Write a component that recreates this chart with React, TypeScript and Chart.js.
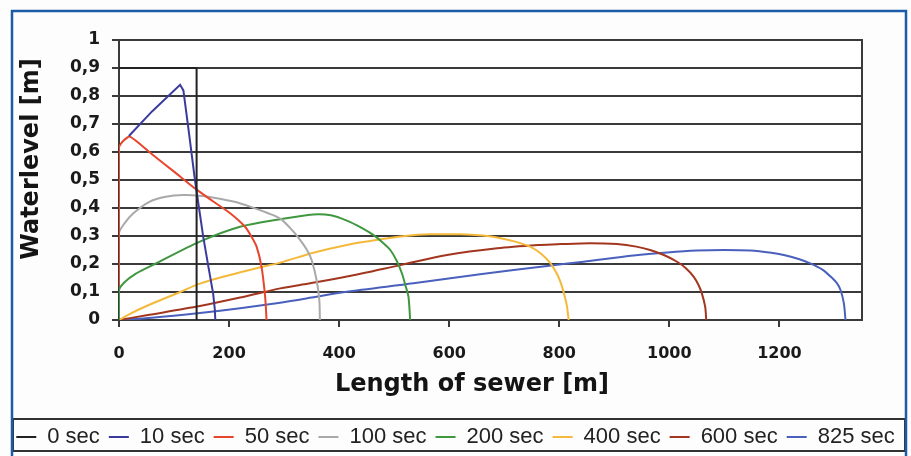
import React, { useEffect, useRef } from "react";
import { Chart, registerables } from "chart.js";

Chart.register(...registerables);

// ---- data ----
const seriesNames = ["0 sec", "10 sec", "50 sec", "100 sec", "200 sec", "400 sec", "600 sec", "825 sec"];
const seriesColors = ["#222222", "#3b3b9e", "#e8462c", "#a9a9a9", "#3f983f", "#f4b93a", "#a2361e", "#4a60bd"];
const seriesTension = [0, 0, 0.2, 0.3, 0.3, 0.3, 0.3, 0.3];

const sec0: [number, number][] = [[0, 0.9], [141, 0.9], [141, 0]];
const sec10: [number, number][] = [
  [18, 0.657], [60, 0.745], [111, 0.84], [117, 0.82], [127, 0.67], [138, 0.5],
  [146, 0.392], [153, 0.298], [162, 0.195], [171, 0.095], [174, 0.04], [175, 0],
];
const sec50: [number, number][] = [
  [0, 0.12], [0, 0.615], [8, 0.64], [20, 0.655], [60, 0.592], [100, 0.53], [138, 0.47],
  [170, 0.425], [202, 0.381], [229, 0.333], [240, 0.3], [250, 0.262], [259, 0.19],
  [265, 0.095], [267, 0.04], [268, 0],
];
const sec100: [number, number][] = [
  [0, 0.2], [0, 0.31], [10, 0.345], [26, 0.381], [56, 0.423], [85, 0.44], [117, 0.446],
  [150, 0.443], [178, 0.435], [210, 0.422], [238, 0.405], [270, 0.382], [293, 0.362],
  [315, 0.32], [329, 0.286], [343, 0.245], [350, 0.214], [359, 0.143], [364, 0.071], [365, 0],
];
const sec200: [number, number][] = [
  [0, 0], [0, 0.107], [10, 0.135], [30, 0.165], [65, 0.2], [147, 0.28], [220, 0.333],
  [293, 0.36], [353, 0.377], [385, 0.374], [414, 0.355], [440, 0.33], [462, 0.304],
  [480, 0.275], [493, 0.25], [505, 0.21], [514, 0.167], [521, 0.12], [526, 0.083], [529, 0],
];
const sec400: [number, number][] = [
  [0, 0], [20, 0.022], [50, 0.05], [111, 0.1], [147, 0.13], [200, 0.16], [250, 0.185],
  [293, 0.205], [353, 0.24], [414, 0.268], [475, 0.288], [520, 0.3], [565, 0.306],
  [620, 0.306], [660, 0.302], [687, 0.295], [720, 0.28], [747, 0.262], [768, 0.235],
  [784, 0.202], [797, 0.16], [805, 0.119], [811, 0.075], [814, 0.048], [817, 0],
];
const sec600: [number, number][] = [
  [0, 0], [50, 0.017], [147, 0.05], [220, 0.08], [293, 0.113], [329, 0.125], [414, 0.155],
  [511, 0.196], [596, 0.232], [687, 0.256], [765, 0.268], [802, 0.271], [856, 0.274],
  [905, 0.271], [940, 0.262], [965, 0.25], [990, 0.232], [1014, 0.208], [1030, 0.185],
  [1044, 0.155], [1053, 0.125], [1059, 0.095], [1065, 0.048], [1067, 0],
];
const sec825: [number, number][] = [
  [0, 0], [60, 0.008], [147, 0.025], [220, 0.042], [293, 0.062], [350, 0.08], [411, 0.1],
  [535, 0.131], [656, 0.163], [778, 0.193], [844, 0.208], [935, 0.23], [996, 0.241],
  [1050, 0.248], [1100, 0.25], [1147, 0.248], [1185, 0.24], [1208, 0.232], [1235, 0.218],
  [1256, 0.202], [1278, 0.18], [1293, 0.155], [1305, 0.13], [1311, 0.107], [1317, 0.06], [1320, 0],
];
const seriesData = [sec0, sec10, sec50, sec100, sec200, sec400, sec600, sec825];

const xTickLabels = ["0", "200", "400", "600", "800", "1000", "1200"];
const yTickLabels = ["0", "0,1", "0,2", "0,3", "0,4", "0,5", "0,6", "0,7", "0,8", "0,9", "1"];
const xAxisTitle = "Length of sewer [m]";
const yAxisTitle = "Waterlevel [m]";

const GRID = "#3a3a3a";
const TITLE_FONT = "bold 24px 'DejaVu Sans'";

const framePlugin = {
  id: "framePlugin",
  beforeDraw(chart: any) {
    const ctx = chart.ctx;
    const a = chart.chartArea;
    ctx.save();
    ctx.fillStyle = "#fdfdfd";
    ctx.fillRect(0, 0, chart.width, chart.height);
    ctx.fillStyle = "#ffffff";
    ctx.fillRect(a.left, a.top, a.right - a.left, a.bottom - a.top);
    ctx.restore();
  },
  afterDraw(chart: any) {
    const ctx = chart.ctx;
    ctx.save();
    ctx.fillStyle = "#141414";
    ctx.font = TITLE_FONT;
    ctx.textAlign = "center";
    ctx.textBaseline = "middle";
    ctx.fillText(xAxisTitle, 472, 385);
    ctx.save();
    ctx.translate(32, 159);
    ctx.rotate(-Math.PI / 2);
    ctx.fillText(yAxisTitle, 0, 0);
    ctx.restore();
    // legend box
    ctx.strokeStyle = "#333333";
    ctx.lineWidth = 2;
    ctx.strokeRect(13, 419, 892, 32);
    // outer blue frame
    ctx.strokeStyle = "#1b5ba8";
    ctx.lineWidth = 2.5;
    ctx.strokeRect(12, 11, 894, 520);
    ctx.restore();
  },
};

export default function App() {
  const canvasRef = useRef<HTMLCanvasElement | null>(null);

  useEffect(() => {
    if (!canvasRef.current) return;
    const datasets = seriesData.map((pts, i) => ({
      label: seriesNames[i],
      data: pts.map(([x, y]) => ({ x, y })),
      borderColor: seriesColors[i],
      backgroundColor: seriesColors[i],
      borderWidth: 2,
      pointRadius: 0,
      pointHoverRadius: 0,
      tension: seriesTension[i],
      fill: false,
    }));
    const chart = new Chart(canvasRef.current, {
      type: "line",
      data: { datasets },
      plugins: [framePlugin],
      options: {
        animation: false,
        responsive: false,
        events: [],
        layout: { padding: { left: 0, right: 0, top: 40, bottom: -2 } },
        plugins: {
          tooltip: { enabled: false },
          title: { display: false },
          legend: {
            display: true,
            position: "bottom",
            labels: {
              usePointStyle: true,
              pointStyle: "line",
              pointStyleWidth: 20,
              padding: 9,
              color: "#222222",
              font: { family: "'Liberation Sans', Arial, sans-serif", size: 22 },
            },
          },
        },
        scales: {
          x: {
            type: "linear",
            min: 0,
            max: 1350,
            afterFit: (s: any) => { s.height = 97; },
            border: { display: true, color: GRID, width: 2 },
            grid: { display: true, drawOnChartArea: false, drawTicks: true, tickLength: 7, color: GRID, lineWidth: 2 },
            ticks: {
              stepSize: 200,
              includeBounds: false,
              maxRotation: 0,
              autoSkip: false,
              padding: 17,
              color: "#1a1a1a",
              font: { family: "'DejaVu Sans'", weight: "bold", size: 16 },
              callback: (_v: any, i: number) => xTickLabels[i] ?? "",
            },
            title: { display: false },
          },
          y: {
            type: "linear",
            min: 0,
            max: 1,
            afterFit: (s: any) => { s.width = 119; },
            border: { display: true, color: GRID, width: 2 },
            grid: { display: true, drawOnChartArea: true, drawTicks: true, tickLength: 7, color: GRID, lineWidth: 2 },
            ticks: {
              stepSize: 0.1,
              autoSkip: false,
              padding: 12,
              color: "#1a1a1a",
              font: { family: "'DejaVu Sans'", weight: "bold", size: 17 },
              callback: (_v: any, i: number) => yTickLabels[i] ?? "",
            },
            title: { display: false },
          },
          yRight: {
            type: "linear",
            position: "right",
            display: true,
            min: 0,
            max: 1,
            afterFit: (s: any) => { s.width = 49; },
            border: { display: true, color: GRID, width: 2 },
            grid: { display: false },
            ticks: { display: false },
          },
        },
      },
    } as any);
    return () => chart.destroy();
  }, []);

  return (
    <div style={{ position: "fixed", left: 0, top: 0, width: 911, height: 456 }}>
      <canvas ref={canvasRef} width={911} height={456} style={{ display: "block" }} />
    </div>
  );
}
